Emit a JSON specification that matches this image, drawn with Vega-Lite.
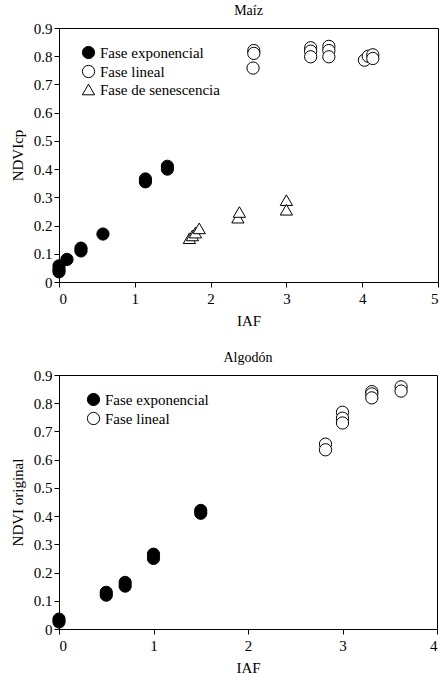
{
  "$schema": "https://vega.github.io/schema/vega-lite/v6.json",
  "background": "white",
  "padding": {"left": 9, "top": 3, "right": 0, "bottom": 0},
  "spacing": 21,
  "config": {
    "font": "Times New Roman, Liberation Serif, serif",
    "view": {"stroke": "black", "strokeWidth": 1},
    "title": {"font": "Times New Roman, Liberation Serif, serif", "fontSize": 14, "fontWeight": "normal", "color": "black", "offset": 3},
    "axis": {
      "grid": false, "domainColor": "black", "tickColor": "black", "labelColor": "black",
      "titleColor": "black", "labelFont": "Times New Roman, Liberation Serif, serif", "titleFont": "Times New Roman, Liberation Serif, serif",
      "labelFontSize": 15, "titleFontSize": 15, "titleFontWeight": "normal", "tickSize": 5
    },
    "legend": {
      "labelFont": "Times New Roman, Liberation Serif, serif", "labelFontSize": 15, "labelColor": "black",
      "symbolStrokeWidth": 1, "symbolSize": 150, "rowPadding": 2
    }
  },
  "datasets": {
    "maiz": [
      {"iaf": 0.0, "ndvi": 0.057, "fase": "Fase exponencial"},
      {"iaf": 0.0, "ndvi": 0.045, "fase": "Fase exponencial"},
      {"iaf": 0.0, "ndvi": 0.036, "fase": "Fase exponencial"},
      {"iaf": 0.105, "ndvi": 0.08, "fase": "Fase exponencial"},
      {"iaf": 0.29, "ndvi": 0.11, "fase": "Fase exponencial"},
      {"iaf": 0.29, "ndvi": 0.12, "fase": "Fase exponencial"},
      {"iaf": 0.58, "ndvi": 0.17, "fase": "Fase exponencial"},
      {"iaf": 1.14, "ndvi": 0.355, "fase": "Fase exponencial"},
      {"iaf": 1.14, "ndvi": 0.365, "fase": "Fase exponencial"},
      {"iaf": 1.43, "ndvi": 0.40, "fase": "Fase exponencial"},
      {"iaf": 1.43, "ndvi": 0.41, "fase": "Fase exponencial"},
      {"iaf": 2.57, "ndvi": 0.82, "fase": "Fase lineal"},
      {"iaf": 2.57, "ndvi": 0.81, "fase": "Fase lineal"},
      {"iaf": 2.56, "ndvi": 0.758, "fase": "Fase lineal"},
      {"iaf": 3.32, "ndvi": 0.83, "fase": "Fase lineal"},
      {"iaf": 3.32, "ndvi": 0.818, "fase": "Fase lineal"},
      {"iaf": 3.32, "ndvi": 0.798, "fase": "Fase lineal"},
      {"iaf": 3.56, "ndvi": 0.835, "fase": "Fase lineal"},
      {"iaf": 3.56, "ndvi": 0.82, "fase": "Fase lineal"},
      {"iaf": 3.56, "ndvi": 0.798, "fase": "Fase lineal"},
      {"iaf": 4.03, "ndvi": 0.786, "fase": "Fase lineal"},
      {"iaf": 4.08, "ndvi": 0.80, "fase": "Fase lineal"},
      {"iaf": 4.14, "ndvi": 0.805, "fase": "Fase lineal"},
      {"iaf": 4.14, "ndvi": 0.792, "fase": "Fase lineal"},
      {"iaf": 1.72, "ndvi": 0.155, "fase": "Fase de senescencia"},
      {"iaf": 1.76, "ndvi": 0.165, "fase": "Fase de senescencia"},
      {"iaf": 1.80, "ndvi": 0.175, "fase": "Fase de senescencia"},
      {"iaf": 1.85, "ndvi": 0.19, "fase": "Fase de senescencia"},
      {"iaf": 2.36, "ndvi": 0.228, "fase": "Fase de senescencia"},
      {"iaf": 2.38, "ndvi": 0.248, "fase": "Fase de senescencia"},
      {"iaf": 3.0, "ndvi": 0.29, "fase": "Fase de senescencia"},
      {"iaf": 3.0, "ndvi": 0.256, "fase": "Fase de senescencia"}
    ],
    "algodon": [
      {"iaf": 0.0, "ndvi": 0.035, "fase": "Fase exponencial"},
      {"iaf": 0.0, "ndvi": 0.025, "fase": "Fase exponencial"},
      {"iaf": 0.5, "ndvi": 0.13, "fase": "Fase exponencial"},
      {"iaf": 0.5, "ndvi": 0.12, "fase": "Fase exponencial"},
      {"iaf": 0.7, "ndvi": 0.165, "fase": "Fase exponencial"},
      {"iaf": 0.7, "ndvi": 0.152, "fase": "Fase exponencial"},
      {"iaf": 1.0, "ndvi": 0.265, "fase": "Fase exponencial"},
      {"iaf": 1.0, "ndvi": 0.25, "fase": "Fase exponencial"},
      {"iaf": 1.5, "ndvi": 0.42, "fase": "Fase exponencial"},
      {"iaf": 1.5, "ndvi": 0.41, "fase": "Fase exponencial"},
      {"iaf": 2.82, "ndvi": 0.655, "fase": "Fase lineal"},
      {"iaf": 2.82, "ndvi": 0.635, "fase": "Fase lineal"},
      {"iaf": 3.0, "ndvi": 0.768, "fase": "Fase lineal"},
      {"iaf": 3.0, "ndvi": 0.747, "fase": "Fase lineal"},
      {"iaf": 3.0, "ndvi": 0.73, "fase": "Fase lineal"},
      {"iaf": 3.31, "ndvi": 0.841, "fase": "Fase lineal"},
      {"iaf": 3.31, "ndvi": 0.833, "fase": "Fase lineal"},
      {"iaf": 3.31, "ndvi": 0.819, "fase": "Fase lineal"},
      {"iaf": 3.62, "ndvi": 0.858, "fase": "Fase lineal"},
      {"iaf": 3.62, "ndvi": 0.843, "fase": "Fase lineal"}
    ]
  },
  "vconcat": [
    {
      "title": "Maíz",
      "width": 379,
      "height": 254,
      "data": {"name": "maiz"},
      "mark": {"type": "point", "filled": false, "fillOpacity": 1, "opacity": 1, "strokeWidth": 1, "size": 150},
      "encoding": {
        "x": {"field": "iaf", "type": "quantitative", "title": "IAF",
              "scale": {"domain": [0, 5], "nice": false},
              "axis": {"values": [0, 1, 2, 3, 4, 5], "labelPadding": 4, "titlePadding": 7}},
        "y": {"field": "ndvi", "type": "quantitative", "title": "NDVIcp",
              "scale": {"domain": [0, 0.9], "nice": false},
              "axis": {"values": [0, 0.1, 0.2, 0.3, 0.4, 0.5, 0.6, 0.7, 0.8, 0.9], "format": "~g", "titlePadding": 8}},
        "shape": {"field": "fase", "type": "nominal", "title": null,
                  "scale": {"domain": ["Fase exponencial", "Fase lineal", "Fase de senescencia"], "range": ["circle", "circle", "triangle-up"]},
                  "legend": {"orient": "none", "legendX": 22, "legendY": 17}},
        "fill": {"field": "fase", "type": "nominal", "title": null,
                 "scale": {"domain": ["Fase exponencial", "Fase lineal", "Fase de senescencia"], "range": ["black", "white", "white"]},
                 "legend": {"orient": "none", "legendX": 22, "legendY": 17}},
        "stroke": {"field": "fase", "type": "nominal", "title": null,
                   "scale": {"domain": ["Fase exponencial", "Fase lineal", "Fase de senescencia"], "range": ["black", "black", "black"]},
                   "legend": {"orient": "none", "legendX": 22, "legendY": 17}}
      }
    },
    {
      "title": "Algodón",
      "width": 378,
      "height": 254,
      "data": {"name": "algodon"},
      "mark": {"type": "point", "filled": false, "fillOpacity": 1, "opacity": 1, "strokeWidth": 1, "size": 150},
      "encoding": {
        "x": {"field": "iaf", "type": "quantitative", "title": "IAF",
              "scale": {"domain": [0, 4], "nice": false},
              "axis": {"values": [0, 1, 2, 3, 4], "labelPadding": 4, "titlePadding": 7}},
        "y": {"field": "ndvi", "type": "quantitative", "title": "NDVI original",
              "scale": {"domain": [0, 0.9], "nice": false},
              "axis": {"values": [0, 0.1, 0.2, 0.3, 0.4, 0.5, 0.6, 0.7, 0.8, 0.9], "format": "~g", "titlePadding": 8}},
        "shape": {"field": "fase", "type": "nominal", "title": null,
                  "scale": {"domain": ["Fase exponencial", "Fase lineal"], "range": ["circle", "circle"]},
                  "legend": {"orient": "none", "legendX": 27, "legendY": 17}},
        "fill": {"field": "fase", "type": "nominal", "title": null,
                 "scale": {"domain": ["Fase exponencial", "Fase lineal"], "range": ["black", "white"]},
                 "legend": {"orient": "none", "legendX": 27, "legendY": 17}},
        "stroke": {"field": "fase", "type": "nominal", "title": null,
                   "scale": {"domain": ["Fase exponencial", "Fase lineal"], "range": ["black", "black"]},
                   "legend": {"orient": "none", "legendX": 27, "legendY": 17}}
      }
    }
  ],
  "resolve": {"scale": {"shape": "independent", "fill": "independent", "stroke": "independent"}}
}
